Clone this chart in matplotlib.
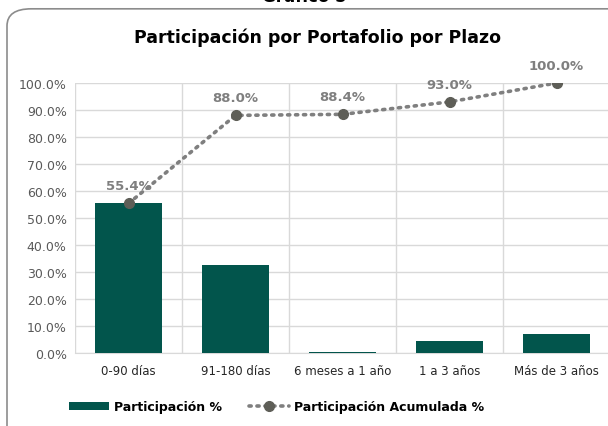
import matplotlib.pyplot as plt
import numpy as np
from matplotlib.patches import FancyBboxPatch

plazos = ["0-90 días", "91-180 días", "6 meses a 1 año", "1 a 3 años", "Más de 3 años"]
participacion = [55.4, 32.6, 0.4, 4.6, 7.0]
acumulada = [55.4, 88.0, 88.4, 93.0, 100.0]

verde = '#02554C'
gris_linea = '#7F7F7F'
gris_punto = '#5E5E57'

plt.rcParams['font.family'] = 'DejaVu Sans'

fig = plt.figure(figsize=(6.08, 4.27), dpi=100)
ax = fig.add_axes([75 / 608, 1 - 354 / 427, 535 / 608, 270 / 427])

# marco redondeado del grafico
marco = FancyBboxPatch((7 / 608, -0.05), 1.2, 1.027, transform=fig.transFigure,
                       boxstyle="round,pad=0,rounding_size=0.04",
                       facecolor='white', edgecolor='#8C8C8C', linewidth=1.2, zorder=-10)
fig.patches.append(marco)

x = np.arange(len(plazos))
barras = ax.bar(x, participacion, width=0.62, color=verde, zorder=3, label='Participación %')
linea, = ax.plot(x, acumulada, linestyle=(0, (0.6, 1.6)), dash_capstyle='round', linewidth=2.6,
                 color=gris_linea, marker='o', markersize=7, markerfacecolor=gris_punto,
                 markeredgecolor=gris_punto, zorder=4, label='Participación Acumulada %')

for xi, v in zip(x, acumulada):
    ax.annotate(f"{v:.1f}%", (xi, v), xytext=(0, 8), textcoords='offset points',
                ha='center', va='bottom', fontsize=9.5, fontweight='bold', color=gris_linea)

ax.set_xlim(-0.5, len(plazos) - 0.5)
ax.set_ylim(0, 100)
ax.set_yticks(np.arange(0, 101, 10))
ax.set_yticklabels([f"{v:.1f}%" for v in np.arange(0, 101, 10)])
ax.set_xticks(x)
ax.set_xticklabels(plazos)
ax.set_xticks(np.arange(-0.5, len(plazos), 1), minor=True)

ax.grid(True, axis='y', color='#D9D9D9', linewidth=1, zorder=0)
ax.grid(True, axis='x', which='minor', color='#D9D9D9', linewidth=1, zorder=0)
for s in ['top', 'right', 'left']:
    ax.spines[s].set_visible(False)
ax.spines['bottom'].set_color('#D9D9D9')
ax.tick_params(axis='both', which='both', length=0)
ax.tick_params(axis='y', labelsize=9, labelcolor='#595959', pad=6)
ax.tick_params(axis='x', labelsize=8.5, labelcolor='#262626', pad=8)

fig.text(0.522, 0.911, 'Participación por Portafolio por Plazo', ha='center', va='center',
         fontsize=12.5, fontweight='bold', color='black')
fig.text(0.5, 1.006, 'Gráfico 5', ha='center', va='center',
         fontsize=12, fontweight='bold', color='black')

leg = fig.legend([barras, linea], ['Participación %', 'Participación Acumulada %'],
                 loc='center', bbox_to_anchor=(0.455, 0.045), ncol=2, frameon=False,
                 handlelength=3.2, handleheight=0.6, handletextpad=0.4, columnspacing=2.2,
                 prop={'size': 9, 'weight': 'bold'})

fig.savefig('out.png', dpi=100)
